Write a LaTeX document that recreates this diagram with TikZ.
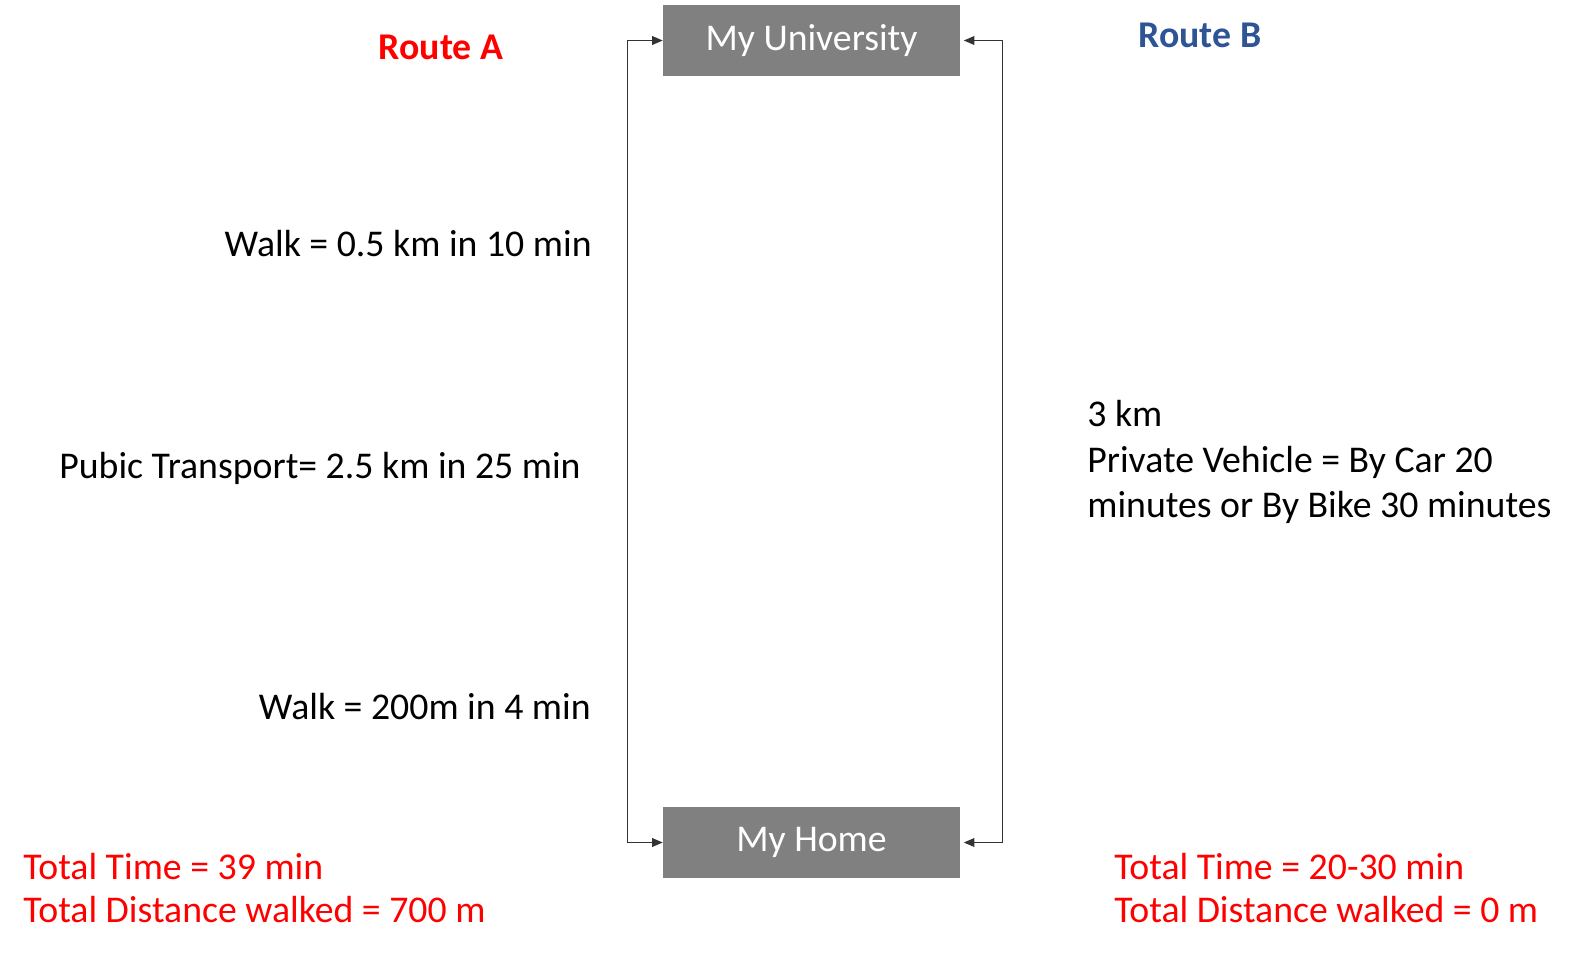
\documentclass[tikz,border=0pt]{standalone}
\usepackage{fontspec}
\usepackage{tikz}
\setmainfont{Carlito}
\usetikzlibrary{arrows.meta}
\usetikzlibrary{positioning}
\tikzset{place/.style = {fill=mgray, text=white, minimum width=5.94cm,
                         minimum height=1.42cm, inner sep=0pt, font=\fontsize{21.5}{25}\selectfont}}
\tikzset{info/.style = {inner sep=0pt, align=left, font=\fontsize{21.5}{25}\selectfont}}
\tikzset{title/.style = {inner sep=0pt, font=\bfseries\fontsize{21.5}{25}\selectfont}}
\tikzset{link/.style = {draw=mline, line width=0.6pt,
                        {Triangle[length=6pt, width=5pt]}-{Triangle[length=6pt, width=5pt]}}}
\definecolor{mgray}{rgb}{0.5, 0.5, 0.5}
\definecolor{mline}{rgb}{0.2, 0.2, 0.2}
\definecolor{mred}{rgb}{1, 0, 0}
\definecolor{mblue}{rgb}{0.18, 0.33, 0.59}

\begin{document}
\begin{tikzpicture}[x=0.02cm, y=-0.02cm]
    \useasboundingbox (0, 0) rectangle (1582, 964);
    \node [place] (uni) at (811.5, 40.5) {My University};
    \node [place] (home) at (811.5, 842.5) {My Home};
    \draw [link] (uni.west) -- ++(-35, 0) |- (home.west);
    \draw [link, shorten <=2pt, shorten >=2pt] (uni.east) -- ++(42, 0) |- (home.east);
    \node [title, text=mred] (routeA) at (441, 47) {Route A};
    \node [title, text=mblue] (routeB) at (1200, 35) {Route B};
    \node [info, anchor=east] (walk1) at (592, 244) {Walk = 0.5 km in 10 min};
    \node [info, anchor=east] (bus) at (581, 468) {Pubic Transport= 2.5 km in 25 min};
    \node [info, anchor=east] (walk2) at (591, 707) {Walk = 200m in 4 min};
    \node [info, anchor=west, font=\fontsize{21.5}{26}\selectfont] (car) at (1087, 462)
        {3 km\\ Private Vehicle = By Car 20\\ minutes or By Bike 30 minutes};
    \node [info, anchor=west, text=mred] (totalA) at (23, 888) {Total Time = 39 min\\ Total Distance walked = 700 m};
    \node [info, anchor=west, text=mred] (totalB) at (1114, 888) {Total Time = 20-30 min\\ Total Distance walked = 0 m};
  \end{tikzpicture}
\end{document}
